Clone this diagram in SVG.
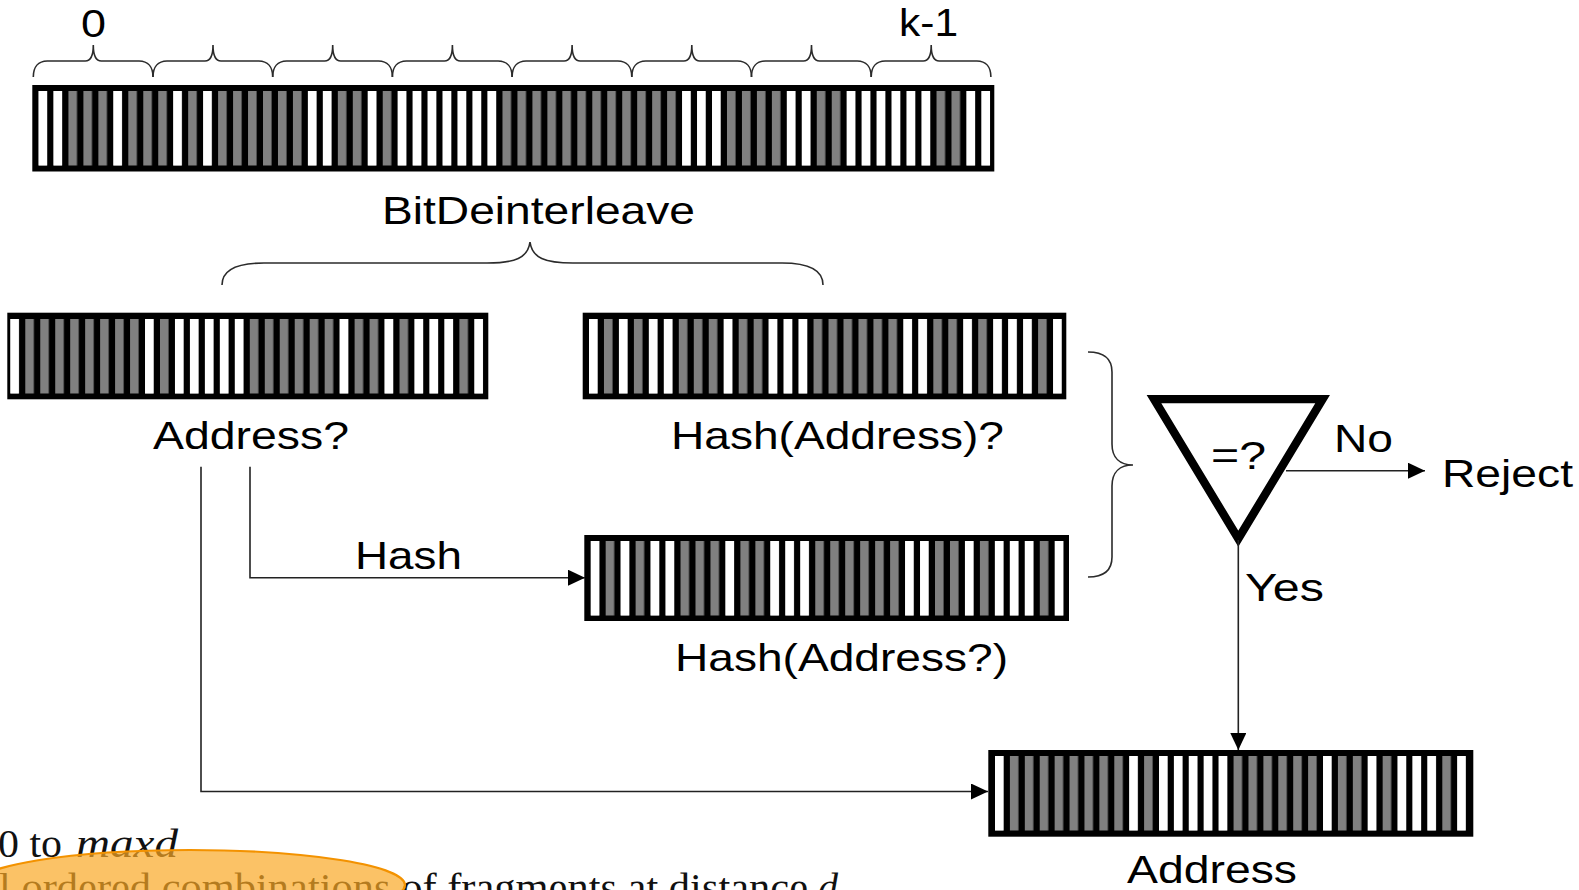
<svg xmlns="http://www.w3.org/2000/svg" width="1579" height="890" viewBox="0 0 1579 890">
  <defs>
    <style>
      .frame{fill:#000}
      .w{fill:#fff}
      .lbl{font-family:"Liberation Sans",Arial,Helvetica,sans-serif;font-size:39.5px;fill:#000}
      .brace{fill:none;stroke:#2b2b2b;stroke-width:1.6}
      .wire{fill:none;stroke:#222;stroke-width:1.6}
      .tex{font-family:"Liberation Serif","Times New Roman",serif;font-size:40px;fill:#111}
    </style>
    <!-- grey bit cells every 15px; white cells are drawn over them -->
    <pattern id="grey" width="15" height="80" patternUnits="userSpaceOnUse">
      <rect width="8.6" height="80" fill="#808080"/>
    </pattern>
    <!-- even-position bits (address half) -->
    <g id="bitsEven">
      <rect width="474" height="74.5" fill="url(#grey)"/>
      <rect class="w" x="0" width="8.6" height="74.5"/>
      <rect class="w" x="135" width="8.6" height="74.5"/>
      <rect class="w" x="165" width="8.6" height="74.5"/>
      <rect class="w" x="180" width="8.6" height="74.5"/>
      <rect class="w" x="195" width="8.6" height="74.5"/>
      <rect class="w" x="210" width="8.6" height="74.5"/>
      <rect class="w" x="225" width="8.6" height="74.5"/>
      <rect class="w" x="330" width="8.6" height="74.5"/>
      <rect class="w" x="375" width="8.6" height="74.5"/>
      <rect class="w" x="405" width="8.6" height="74.5"/>
      <rect class="w" x="420" width="8.6" height="74.5"/>
      <rect class="w" x="435" width="8.6" height="74.5"/>
      <rect class="w" x="465" width="8.6" height="74.5"/>
    </g>
    <!-- odd-position bits (hash half) -->
    <g id="bitsOdd">
      <rect width="474" height="74.5" fill="url(#grey)"/>
      <rect class="w" x="0" width="8.6" height="74.5"/>
      <rect class="w" x="30" width="8.6" height="74.5"/>
      <rect class="w" x="60" width="8.6" height="74.5"/>
      <rect class="w" x="75" width="8.6" height="74.5"/>
      <rect class="w" x="135" width="8.6" height="74.5"/>
      <rect class="w" x="180" width="8.6" height="74.5"/>
      <rect class="w" x="195" width="8.6" height="74.5"/>
      <rect class="w" x="210" width="8.6" height="74.5"/>
      <rect class="w" x="315" width="8.6" height="74.5"/>
      <rect class="w" x="330" width="8.6" height="74.5"/>
      <rect class="w" x="375" width="8.6" height="74.5"/>
      <rect class="w" x="405" width="8.6" height="74.5"/>
      <rect class="w" x="420" width="8.6" height="74.5"/>
      <rect class="w" x="435" width="8.6" height="74.5"/>
      <rect class="w" x="465" width="8.6" height="74.5"/>
    </g>
    <!-- small brace spanning 8 bits -->
    <path id="brace8" class="brace" d="M0,77 C0,67 5,61 14,61 L52,61 C57,61 60,57 60,45 C60,57 63,61 68,61 L105.7,61 C114.7,61 119.7,67 119.7,77"/>
    <marker id="arrow" markerWidth="18" markerHeight="17" refX="17" refY="8" orient="auto" markerUnits="userSpaceOnUse">
      <path d="M0,0 L17,8 L0,16 z" fill="#000"/>
    </marker>
  </defs>

  <rect width="1579" height="890" fill="#fff"/>

  <!-- 64-bit interleaved word -->
  <g id="word64">
    <rect class="frame" x="32.3" y="85" width="962" height="86.5"/>
    <g transform="translate(38.5 91) scale(0.9978 1)">
      <rect width="954" height="74.5" fill="url(#grey)"/>
      <rect class="w" x="0" width="8.6" height="74.5"/>
      <rect class="w" x="15" width="8.6" height="74.5"/>
      <rect class="w" x="75" width="8.6" height="74.5"/>
      <rect class="w" x="135" width="8.6" height="74.5"/>
      <rect class="w" x="165" width="8.6" height="74.5"/>
      <rect class="w" x="270" width="8.6" height="74.5"/>
      <rect class="w" x="285" width="8.6" height="74.5"/>
      <rect class="w" x="330" width="8.6" height="74.5"/>
      <rect class="w" x="360" width="8.6" height="74.5"/>
      <rect class="w" x="375" width="8.6" height="74.5"/>
      <rect class="w" x="390" width="8.6" height="74.5"/>
      <rect class="w" x="405" width="8.6" height="74.5"/>
      <rect class="w" x="420" width="8.6" height="74.5"/>
      <rect class="w" x="435" width="8.6" height="74.5"/>
      <rect class="w" x="450" width="8.6" height="74.5"/>
      <rect class="w" x="645" width="8.6" height="74.5"/>
      <rect class="w" x="660" width="8.6" height="74.5"/>
      <rect class="w" x="675" width="8.6" height="74.5"/>
      <rect class="w" x="750" width="8.6" height="74.5"/>
      <rect class="w" x="765" width="8.6" height="74.5"/>
      <rect class="w" x="810" width="8.6" height="74.5"/>
      <rect class="w" x="825" width="8.6" height="74.5"/>
      <rect class="w" x="840" width="8.6" height="74.5"/>
      <rect class="w" x="855" width="8.6" height="74.5"/>
      <rect class="w" x="870" width="8.6" height="74.5"/>
      <rect class="w" x="885" width="8.6" height="74.5"/>
      <rect class="w" x="930" width="8.6" height="74.5"/>
      <rect class="w" x="945" width="8.6" height="74.5"/>
    </g>
    <use href="#brace8" x="33.3"/>
    <use href="#brace8" x="153"/>
    <use href="#brace8" x="272.7"/>
    <use href="#brace8" x="392.4"/>
    <use href="#brace8" x="512.1"/>
    <use href="#brace8" x="631.8"/>
    <use href="#brace8" x="751.5"/>
    <use href="#brace8" x="871.2"/>
    <text class="lbl" x="81" y="37" font-size="32" textLength="25" lengthAdjust="spacingAndGlyphs">0</text>
    <text class="lbl" x="899" y="36" font-size="33" textLength="59" lengthAdjust="spacingAndGlyphs">k-1</text>
  </g>

  <!-- deinterleave step -->
  <g id="deinterleave">
    <text class="lbl" x="382" y="224" textLength="313" lengthAdjust="spacingAndGlyphs">BitDeinterleave</text>
    <path class="brace" d="M222,285 C222,270 236,263 264,263 L487,263 C515,263 528,258 530,242 C532,258 545,263 573,263 L782,263 C809,263 823,270 823,285"/>
  </g>

  <!-- candidate address -->
  <g id="address-query">
    <rect class="frame" x="7.3" y="312.7" width="481" height="86.6"/>
    <use href="#bitsEven" transform="translate(10.3 319) scale(0.998 1)"/>
    <text class="lbl" x="153" y="449" textLength="196" lengthAdjust="spacingAndGlyphs">Address?</text>
  </g>

  <!-- candidate hash -->
  <g id="hash-query">
    <rect class="frame" x="582.7" y="312.7" width="483.6" height="86.6"/>
    <use href="#bitsOdd" transform="translate(589 319) scale(0.998 1)"/>
    <text class="lbl" x="671" y="449" textLength="333" lengthAdjust="spacingAndGlyphs">Hash(Address)?</text>
  </g>

  <!-- recomputed hash -->
  <g id="hash-computed">
    <rect class="frame" x="584.3" y="535" width="484.7" height="86"/>
    <use href="#bitsOdd" transform="translate(590.7 541) scale(0.998 1)"/>
    <text class="lbl" x="675" y="671" textLength="333" lengthAdjust="spacingAndGlyphs">Hash(Address?)</text>
  </g>

  <!-- pairing brace for the two hashes -->
  <g id="hash-pair">
    <path class="brace" d="M1088,352 C1104,352 1112,358 1112,372 L1112,444 C1112,458 1120,465 1133,465 C1120,465 1112,472 1112,486 L1112,557 C1112,571 1104,577 1088,577"/>
  </g>

  <!-- comparator -->
  <g id="compare">
    <path d="M1154,399.2 H1322.6 L1238.3,538.7 Z" fill="none" stroke="#000" stroke-width="8.3" stroke-linejoin="miter" stroke-miterlimit="10"/>
    <text class="lbl" x="1211" y="469" textLength="55" lengthAdjust="spacingAndGlyphs">=?</text>
  </g>

  <g id="reject">
    <text class="lbl" x="1442" y="487" textLength="131" lengthAdjust="spacingAndGlyphs">Reject</text>
  </g>

  <!-- accepted address -->
  <g id="address-out">
    <rect class="frame" x="988.3" y="750" width="485" height="86.7"/>
    <use href="#bitsEven" transform="translate(995 756) scale(0.994 1)"/>
    <text class="lbl" x="1127" y="883" textLength="170" lengthAdjust="spacingAndGlyphs">Address</text>
  </g>

  <!-- connectors -->
  <g id="connectors">
    <path class="wire" d="M250,466.7 V577.7 H585" marker-end="url(#arrow)"/>
    <path class="wire" d="M201,466.7 V791.5 H988" marker-end="url(#arrow)"/>
    <path class="wire" d="M1286,470.7 H1425" marker-end="url(#arrow)"/>
    <path class="wire" d="M1238.3,540 V750" marker-end="url(#arrow)"/>
    <text class="lbl" x="355" y="569" textLength="107" lengthAdjust="spacingAndGlyphs">Hash</text>
    <text class="lbl" x="1334" y="452" textLength="59" lengthAdjust="spacingAndGlyphs">No</text>
    <text class="lbl" x="1245" y="601" textLength="79" lengthAdjust="spacingAndGlyphs">Yes</text>
  </g>

  <!-- surrounding page text with highlight -->
  <g id="page-text">
    <text class="tex" x="-2" y="857" textLength="64" lengthAdjust="spacingAndGlyphs">0 to</text>
    <text class="tex" x="76" y="857" font-style="italic" textLength="102" lengthAdjust="spacingAndGlyphs">maxd</text>
    <text class="tex" x="-1" y="901" textLength="809" lengthAdjust="spacingAndGlyphs">l ordered combinations of fragments at distance</text>
    <text class="tex" x="818" y="901" font-style="italic">d</text>
    <ellipse cx="190" cy="885" rx="215" ry="35" fill="#F9A825" fill-opacity="0.7" stroke="#F39200" stroke-width="2.2"/>
  </g>
</svg>
